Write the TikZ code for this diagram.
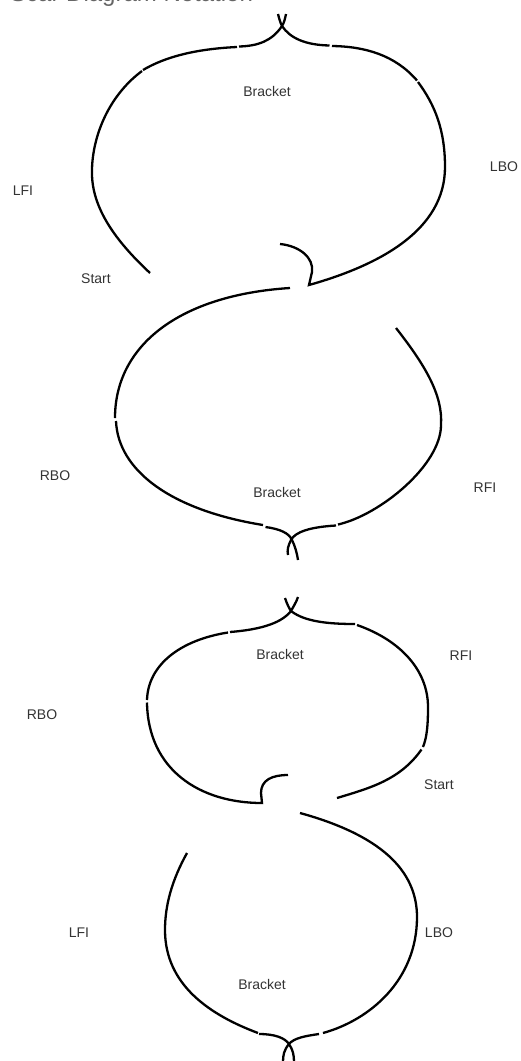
\documentclass[tikz,border=0pt]{standalone}
\usepackage{fontspec}
\setmainfont{Liberation Sans}
\begin{document}
\begin{tikzpicture}[x=1pt,y=-1pt,
  rope/.style={line width=2.3pt, black},
  lbl/.style={font=\fontsize{14}{16}\selectfont, text=black!80, inner sep=0pt},
  ttl/.style={font=\fontsize{24}{28}\selectfont, text=black!60, inner sep=0pt, anchor=base west}]
\useasboundingbox (0,0) rectangle (521,1061);
\node[ttl] (title) at (10,1.0) {Scar Diagram Notation};

% ---------- loop 1 ----------
\draw[rope] (286,14) .. controls (285,19) and (284,23) .. (282,26)
  .. controls (272,41) and (258,46) .. (239,46.5);
\draw[rope] (237,47) .. controls (195,49) and (165,57) .. (143,70);
\draw[rope] (142,71) .. controls (107,97) and (91,140) .. (92,175)
  .. controls (93,212) and (120,245) .. (150,273);
\draw[rope] (280,244) .. controls (300,246) and (314,258) .. (312,272)
  -- (309,285) .. controls (380,265) and (445,230) .. (445,167)
  .. controls (445,130) and (435,105) .. (418,82);
\draw[rope] (417,80.5) .. controls (395,55) and (365,46.5) .. (332,46);
\draw[rope] (329.5,45.5) .. controls (305,45) and (290,38) .. (282,26)
  .. controls (280,22) and (279,18) .. (278,14);

% ---------- loop 2 ----------
\draw[rope] (290,288) .. controls (180,295) and (115,345) .. (115,418);
\draw[rope] (116,421) .. controls (118,470) and (170,510) .. (263,525);
\draw[rope] (265.5,527) .. controls (280,529) and (289,533) .. (292,540)
  .. controls (295,546) and (297,553) .. (298,560);
\draw[rope] (396,328) .. controls (425,365) and (443,395) .. (441,425)
  .. controls (441,465) and (380,515) .. (338,524.5);
\draw[rope] (336,525.5) .. controls (310,527) and (295,532) .. (291,540)
  .. controls (288,546) and (287,550) .. (288,555);

% ---------- loop 3 ----------
\draw[rope] (298,597) .. controls (296,603) and (293,607) .. (291,611)
  .. controls (280,625) and (255,630) .. (230,632);
\draw[rope] (228,632.5) .. controls (180,640) and (148,665) .. (147,700);
\draw[rope] (147,702.5) .. controls (148,770) and (200,803) .. (262,803)
  -- (261,793) .. controls (261,780) and (272,775) .. (288,775);
\draw[rope] (285,598) .. controls (287,604) and (289,608) .. (291,611)
  .. controls (305,622) and (330,624) .. (355,624);
\draw[rope] (357,625) .. controls (400,640) and (428,670) .. (428,707)
  .. controls (428,725) and (427,737) .. (423,747);
\draw[rope] (421.5,749.5) .. controls (400,780) and (370,788) .. (337,798);

% ---------- loop 4 ----------
\draw[rope] (300,813) .. controls (380,835) and (417,870) .. (417,917)
  .. controls (417,980) and (370,1020) .. (323,1033);
\draw[rope] (319,1034) .. controls (305,1036) and (294,1038) .. (289,1044)
  .. controls (284,1050) and (283,1055) .. (283,1062);
\draw[rope] (187,853) .. controls (172,880) and (165,905) .. (165,930)
  .. controls (165,985) and (210,1015) .. (258,1033);
\draw[rope] (259,1034) .. controls (275,1034) and (285,1038) .. (289,1044)
  .. controls (293,1050) and (294,1055) .. (294,1062);

% ---------- labels ----------
\node[lbl] (br1) at (267,91) {Bracket};
\node[lbl] (lfi1) at (23,191) {LFI};
\node[lbl] (lbo1) at (504,167) {LBO};
\node[lbl] (st1) at (96,279) {Start};
\node[lbl] (rbo1) at (55,476) {RBO};
\node[lbl] (br2) at (277,492) {Bracket};
\node[lbl] (rfi1) at (485,488) {RFI};
\node[lbl] (br3) at (280,654) {Bracket};
\node[lbl] (rfi2) at (461,656) {RFI};
\node[lbl] (rbo2) at (42,715) {RBO};
\node[lbl] (st2) at (439,785) {Start};
\node[lbl] (lfi2) at (79,933) {LFI};
\node[lbl] (lbo2) at (439,933) {LBO};
\node[lbl] (br4) at (262,984) {Bracket};
\end{tikzpicture}
\end{document}
